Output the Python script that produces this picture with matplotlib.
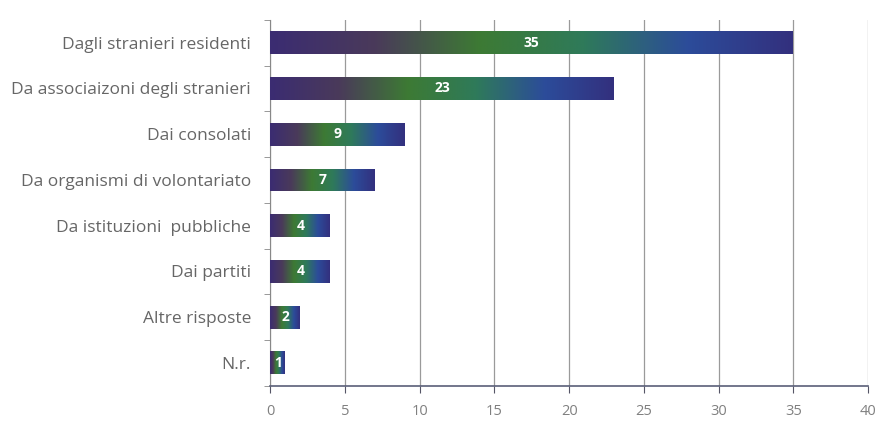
import numpy as np
import matplotlib
matplotlib.use("Agg")
import matplotlib.pyplot as plt
from matplotlib.colors import LinearSegmentedColormap

categories = [
    "Dagli stranieri residenti",
    "Da associaizoni degli stranieri",
    "Dai consolati",
    "Da organismi di volontariato",
    "Da istituzioni  pubbliche",
    "Dai partiti",
    "Altre risposte",
    "N.r.",
]
values = [35, 23, 9, 7, 4, 4, 2, 1]
x_ticks = [0, 5, 10, 15, 20, 25, 30, 35, 40]

plt.rcParams["font.family"] = ["Open Sans", "DejaVu Sans"]

fig = plt.figure(figsize=(8.75, 4.23), dpi=100)
ax = fig.add_axes([0.309, 0.088, 0.683, 0.865])

pos = np.arange(len(categories))
bars = ax.barh(pos, values, height=0.5, color="none", edgecolor="none", zorder=3)

fill = LinearSegmentedColormap.from_list(
    "fill", ["#3b2c72", "#4a3a5a", "#3d7a34", "#2f7a5a", "#2c4c9a", "#33307e"]
)
grad = np.linspace(0, 1, 256).reshape(1, -1)
for b in bars:
    x0, y0, w, h = b.get_x(), b.get_y(), b.get_width(), b.get_height()
    im = ax.imshow(grad, cmap=fill, aspect="auto", extent=(x0, x0 + w, y0, y0 + h),
                   origin="lower", zorder=3, interpolation="bilinear")
    im.set_clip_path(b)
    ax.text(x0 + w / 2, y0 + h / 2, f"{int(w)}", color="white", fontsize=10,
            fontweight="bold", ha="center", va="center", zorder=4)

ax.set_xlim(0, 40)
ax.set_ylim(len(categories) - 0.5, -0.5)
ax.set_xticks(x_ticks)
ax.set_xticklabels([str(t) for t in x_ticks], color="#808080", fontsize=10.5)
ax.set_yticks(pos)
ax.set_yticklabels(categories, color="#666666", fontsize=12.5)
ax.tick_params(axis="y", length=0, pad=14)
ax.set_yticks(np.arange(-0.5, len(categories), 1), minor=True)
ax.tick_params(axis="y", which="minor", length=4, color="#888888", direction="out")
ax.tick_params(axis="x", length=5, color="#556", direction="out", pad=8)

ax.grid(axis="x", color="#9a9a9a", linewidth=0.9, zorder=0)
ax.set_axisbelow(True)
for s in ["top", "right"]:
    ax.spines[s].set_visible(False)
ax.spines["left"].set_color("#888888")
ax.spines["bottom"].set_color("#5a5f78")
ax.spines["bottom"].set_linewidth(1.2)

fig.savefig("out.png", dpi=100)
